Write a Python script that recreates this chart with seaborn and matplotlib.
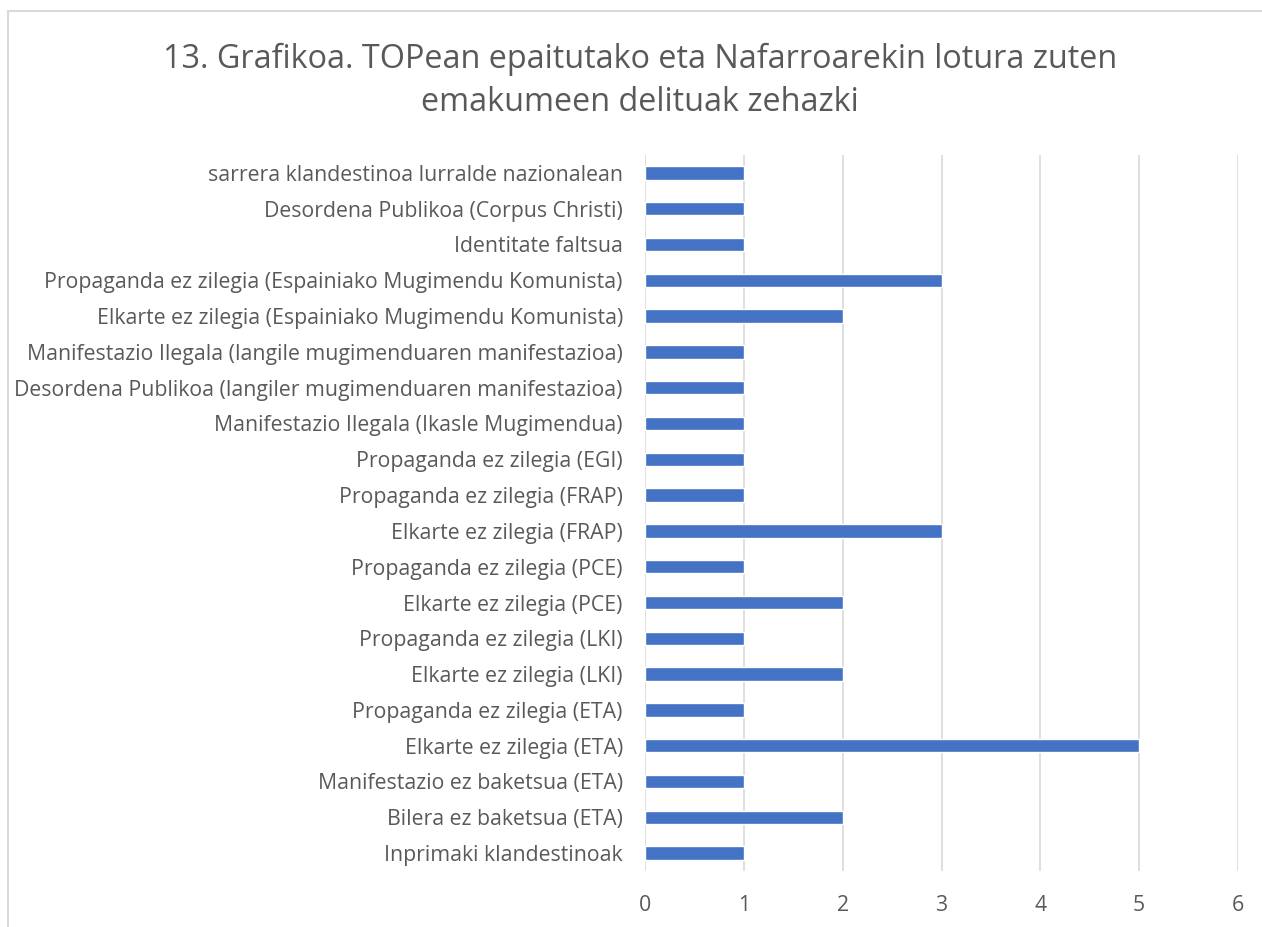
import matplotlib
matplotlib.use("Agg")
import matplotlib.pyplot as plt
import seaborn as sns
import pandas as pd
from matplotlib.lines import Line2D

categories = [
    "sarrera klandestinoa lurralde nazionalean",
    "Desordena Publikoa (Corpus Christi)",
    "Identitate faltsua",
    "Propaganda ez zilegia (Espainiako Mugimendu Komunista)",
    "Elkarte ez zilegia (Espainiako Mugimendu Komunista)",
    "Manifestazio Ilegala (langile mugimenduaren manifestazioa)",
    "Desordena Publikoa (langiler mugimenduaren manifestazioa)",
    "Manifestazio Ilegala (Ikasle Mugimendua)",
    "Propaganda ez zilegia (EGI)",
    "Propaganda ez zilegia (FRAP)",
    "Elkarte ez zilegia (FRAP)",
    "Propaganda ez zilegia (PCE)",
    "Elkarte ez zilegia (PCE)",
    "Propaganda ez zilegia (LKI)",
    "Elkarte ez zilegia (LKI)",
    "Propaganda ez zilegia (ETA)",
    "Elkarte ez zilegia (ETA)",
    "Manifestazio ez baketsua (ETA)",
    "Bilera ez baketsua (ETA)",
    "Inprimaki klandestinoak",
]
values = [1, 1, 1, 3, 2, 1, 1, 1, 1, 1, 3, 1, 2, 1, 2, 1, 5, 1, 2, 1]
x_ticks = [0, 1, 2, 3, 4, 5, 6]
title = "13. Grafikoa. TOPean epaitutako eta Nafarroarekin lotura zuten\nemakumeen delituak zehazki"

sns.set_theme(style="white")
plt.rcParams["font.family"] = ["Open Sans", "DejaVu Sans"]

df = pd.DataFrame({"cat": categories, "val": values})

W, H = 1262, 927
fig = plt.figure(figsize=(W / 100, H / 100), dpi=100)
ax = fig.add_axes([645 / W, 1 - 871 / H, (1238 - 645) / W, (871 - 155) / H])

sns.barplot(data=df, y="cat", x="val", orient="h", color="#4472C4",
            saturation=1, width=0.37, ax=ax, zorder=3)

ax.set_xlim(0, 6)
ax.set_xticks(x_ticks)
ax.set_xlabel("")
ax.set_ylabel("")
ax.grid(axis="x", color="#D9D9D9", linewidth=1.2, zorder=0)
ax.grid(axis="y", visible=False)
for s in ax.spines.values():
    s.set_visible(False)
ax.tick_params(axis="both", length=0, labelsize=15.3, colors="#595959")
ax.tick_params(axis="y", pad=16)
ax.tick_params(axis="x", pad=17)

fig.text(640 / W, 1 - 81 / H, title, ha="center", va="center",
         fontsize=23.3, color="#595959", linespacing=1.42)

# chart border (light gray)
fig.add_artist(Line2D([8 / W, 8 / W], [0, 1 - 11 / H], transform=fig.transFigure,
                      color="#D9D9D9", linewidth=1.5))
fig.add_artist(Line2D([8 / W, 1], [1 - 11 / H, 1 - 11 / H], transform=fig.transFigure,
                      color="#D9D9D9", linewidth=1.5))

fig.savefig("out.png", dpi=100, facecolor="white")
